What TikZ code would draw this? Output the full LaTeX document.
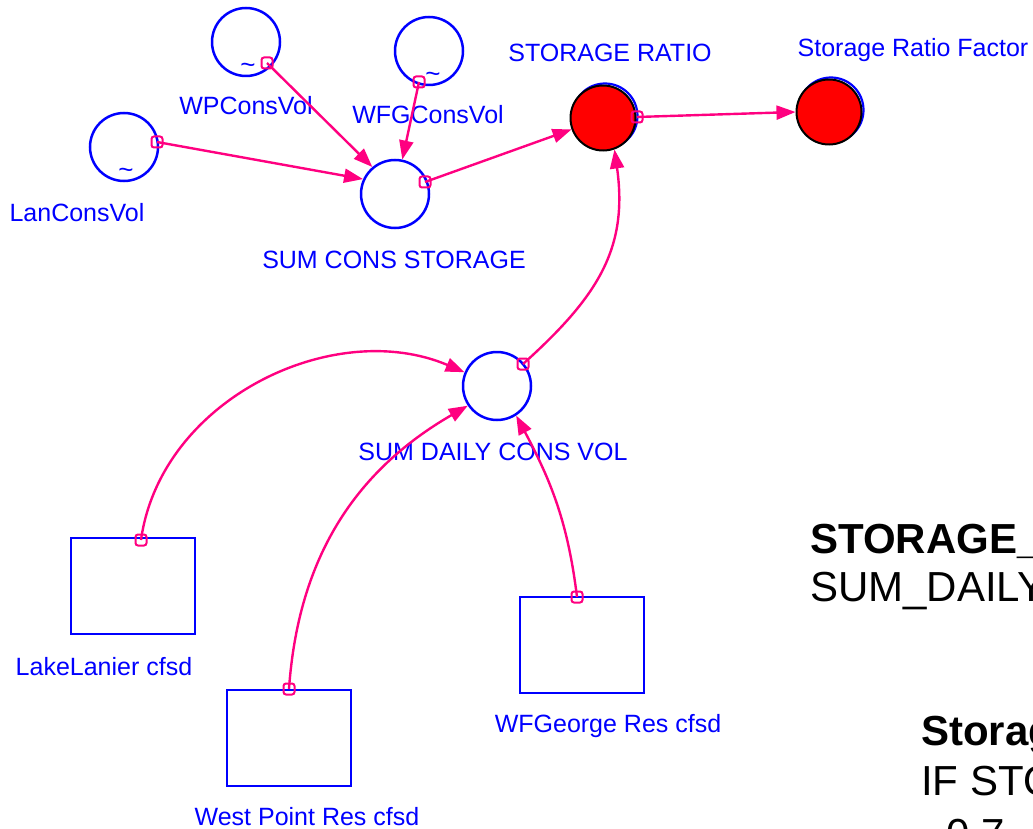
\documentclass[tikz,border=0pt]{standalone}
\usepackage{fontspec}
\setmainfont{Liberation Sans}
\usetikzlibrary{arrows.meta}
\definecolor{linkpink}{RGB}{255,0,128}
\definecolor{varblue}{RGB}{0,0,255}

\tikzset{
  auxvar/.style={circle, draw=varblue, line width=2.5pt, minimum size=68pt, inner sep=0pt},
  stockbox/.style={rectangle, draw=varblue, line width=2.5pt, minimum width=124pt, minimum height=96pt, inner sep=0pt},
  redvar/.style={circle, fill=red, draw=black, line width=2pt, minimum size=65pt, inner sep=0pt},
  redshadow/.style={circle, draw=varblue, line width=2.2pt, minimum size=65pt, inner sep=0pt},
  lbl/.style={text=varblue, font=\fontsize{25}{30}\selectfont, anchor=base, inner sep=0pt},
  tilde/.style={text=varblue, font=\fontsize{26}{26}\selectfont, inner sep=0pt},
  tap/.style={rectangle, rounded corners=2.5pt, draw=linkpink, line width=2pt, minimum size=11pt, inner sep=0pt},
  link/.style={draw=linkpink, line width=2.4pt, -{Triangle[length=19pt,width=14pt]}},
  eqhead/.style={font=\fontsize{42}{48}\selectfont\bfseries, anchor=base west, inner sep=0pt},
  eqbody/.style={font=\fontsize{42}{48}\selectfont, anchor=base west, inner sep=0pt},
}

\begin{document}
\begin{tikzpicture}[x=1pt,y=-1pt]
\useasboundingbox (0,0) rectangle (1033,829);
\clip (0,0) rectangle (1033,829);

% converters with graphical (~) functions
\node[auxvar] (wpcons)  at (246,42)  {};
\node[auxvar] (wfgcons) at (429,51)  {};
\node[auxvar] (lancons) at (124,147) {};
\node[tilde] (wpt)  at (248,68)  {\textasciitilde};
\node[tilde] (wfgt) at (433,77)  {\textasciitilde};
\node[tilde] (lant) at (126,173) {\textasciitilde};

% summing converters
\node[auxvar] (sumcons)  at (395,194) {};
\node[auxvar] (sumdaily) at (497,386) {};

% storage ratio pair
\node[redshadow] (ratiob)  at (605,116) {};
\node[redvar]    (ratio)   at (603,118) {};
\node[redshadow] (factorb) at (831,110) {};
\node[redvar]    (factor)  at (829,112) {};

% reservoir flow boxes
\node[stockbox] (lanier)   at (133,586) {};
\node[stockbox] (westpt)   at (289,738) {};
\node[stockbox] (wfgeorge) at (582,645) {};

% labels
\node[lbl] (lwp)     at (246,115) {WPConsVol};
\node[lbl] (lwfg)    at (428,124) {WFGConsVol};
\node[lbl] (llan)    at (77,222)  {LanConsVol};
\node[lbl] (lsumc)   at (394,268) {SUM CONS STORAGE};
\node[lbl] (lratio)  at (610,62)  {STORAGE RATIO};
\node[lbl] (lfactor) at (913,57)  {Storage Ratio Factor};
\node[lbl] (lsumd)   at (493,460) {SUM DAILY CONS VOL};
\node[lbl] (llanier) at (104,675) {LakeLanier cfsd};
\node[lbl] (lwest)   at (307,825) {West Point Res cfsd};
\node[lbl] (lwfgeo)  at (608,732) {WFGeorge Res cfsd};

% connector origins
\node[tap] (t1) at (157,142) {};
\node[tap] (t2) at (267,63)  {};
\node[tap] (t3) at (419,82)  {};
\node[tap] (t4) at (425,182) {};
\node[tap] (t5) at (637,117) {};
\node[tap] (t6) at (523,364) {};
\node[tap] (t7) at (141,540) {};
\node[tap] (t8) at (289,689) {};
\node[tap] (t9) at (577,597) {};

% connectors
\draw[link] (t1.center) -- (sumcons.155);
\draw[link] (t2.center) -- (sumcons.130);
\draw[link] (t3.center) -- (sumcons.78);
\draw[link] (t4.center) -- (ratio.200);
\draw[link] (t5.center) -- (factor.180);
\draw[link] (t6.center) to[out=42, in=-82, looseness=1.1] (ratio.290);
\draw[link] (t7.center) to[out=82, in=157] (sumdaily.157);
\draw[link] (t8.center) to[out=86, in=210] (sumdaily.214);
\draw[link] (t9.center) to[out=97, in=-62] (sumdaily.303);

% equations
\node[eqhead] (eq1a) at (810,553) {STORAGE\_RATIO = };
\node[eqbody] (eq1b) at (810,601) {SUM\_DAILY\_CONS\_VOL/SUM\_CONS\_STORAGE};
\node[eqhead] (eq2a) at (921,745) {Storage\_Ratio\_Factor = };
\node[eqbody] (eq2b) at (921,795) {IF STORAGE\_RATIO};
\node[eqbody] (eq2c) at (946,848) {0.7};
\end{tikzpicture}
\end{document}
